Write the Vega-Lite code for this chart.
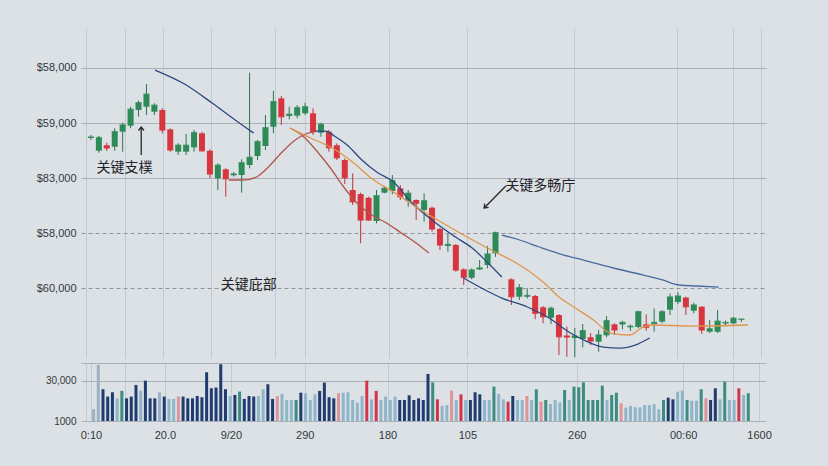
{
"$schema": "https://vega.github.io/schema/vega-lite/v6.json",
"background": "#dce1e5",
"padding": {"left": 36, "top": 28, "right": 63, "bottom": 26},
"bounds": "flush",
"spacing": 5,
"resolve": {"scale": {"color": "independent"}},
"config": {"view": {"stroke": null}, "font": "Liberation Sans",
  "axis": {"labelFont": "Liberation Sans", "labelColor": "#33383d", "labelFontSize": 11, "ticks": false, "domain": false, "title": null, "labelFlush": false, "labelOverlap": false}},
"datasets": {
"candles": [
{"t":0,"o":60727,"h":60782,"l":60691,"c":60745},
{"t":1,"o":60496,"h":60764,"l":60460,"c":60733},
{"t":2,"o":60595,"h":60642,"l":60491,"c":60545},
{"t":3,"o":60569,"h":60904,"l":60496,"c":60842},
{"t":4,"o":60842,"h":61005,"l":60478,"c":60964},
{"t":5,"o":60951,"h":61296,"l":60904,"c":61249},
{"t":6,"o":61236,"h":61405,"l":61114,"c":61369},
{"t":7,"o":61296,"h":61709,"l":61145,"c":61522},
{"t":8,"o":61205,"h":61358,"l":61145,"c":61322},
{"t":9,"o":61236,"h":61267,"l":60813,"c":60873},
{"t":10,"o":60885,"h":60904,"l":60478,"c":60509},
{"t":11,"o":60478,"h":60631,"l":60418,"c":60595},
{"t":12,"o":60478,"h":60800,"l":60418,"c":60595},
{"t":13,"o":60558,"h":60873,"l":60478,"c":60824},
{"t":14,"o":60813,"h":60842,"l":60478,"c":60496},
{"t":15,"o":60496,"h":60522,"l":59995,"c":60073},
{"t":16,"o":59995,"h":60267,"l":59782,"c":60231},
{"t":17,"o":60158,"h":60176,"l":59660,"c":59987},
{"t":18,"o":60049,"h":60109,"l":60027,"c":60073},
{"t":19,"o":60054,"h":60340,"l":59733,"c":60278},
{"t":20,"o":60236,"h":61914,"l":60176,"c":60376},
{"t":21,"o":60400,"h":60691,"l":60327,"c":60660},
{"t":22,"o":60582,"h":61145,"l":60509,"c":60914},
{"t":23,"o":60933,"h":61587,"l":60813,"c":61387},
{"t":24,"o":61449,"h":61491,"l":60964,"c":61114},
{"t":25,"o":61127,"h":61296,"l":61067,"c":61158},
{"t":26,"o":61133,"h":61327,"l":61085,"c":61278},
{"t":27,"o":61176,"h":61369,"l":61145,"c":61296},
{"t":28,"o":61176,"h":61267,"l":60782,"c":60842},
{"t":29,"o":60824,"h":61005,"l":60751,"c":60976},
{"t":30,"o":60842,"h":60873,"l":60478,"c":60551},
{"t":31,"o":60595,"h":60631,"l":60327,"c":60369},
{"t":32,"o":60327,"h":60358,"l":59891,"c":60005},
{"t":33,"o":59782,"h":60085,"l":59509,"c":59569},
{"t":34,"o":59709,"h":59733,"l":58813,"c":59236},
{"t":35,"o":59642,"h":59660,"l":59224,"c":59236},
{"t":36,"o":59218,"h":59782,"l":59176,"c":59678},
{"t":37,"o":59733,"h":59842,"l":59722,"c":59813},
{"t":38,"o":59764,"h":60054,"l":59704,"c":59951},
{"t":39,"o":59813,"h":59873,"l":59600,"c":59660},
{"t":40,"o":59587,"h":59782,"l":59478,"c":59722},
{"t":41,"o":59600,"h":59613,"l":59236,"c":59540},
{"t":42,"o":59418,"h":59722,"l":59206,"c":59587},
{"t":43,"o":59460,"h":59478,"l":59024,"c":59073},
{"t":44,"o":59073,"h":59096,"l":58691,"c":58782},
{"t":45,"o":58764,"h":58982,"l":58660,"c":58791},
{"t":46,"o":58782,"h":58800,"l":58297,"c":58327},
{"t":47,"o":58340,"h":58358,"l":58055,"c":58195},
{"t":48,"o":58187,"h":58358,"l":58158,"c":58327},
{"t":49,"o":58337,"h":58509,"l":58327,"c":58364},
{"t":50,"o":58418,"h":58764,"l":58358,"c":58618},
{"t":51,"o":58631,"h":59024,"l":58569,"c":59006},
{"t":53,"o":58158,"h":58176,"l":57691,"c":57842},
{"t":54,"o":57842,"h":58073,"l":57782,"c":58006},
{"t":55,"o":57842,"h":57995,"l":57813,"c":57864},
{"t":56,"o":57855,"h":57873,"l":57431,"c":57540},
{"t":57,"o":57649,"h":57673,"l":57358,"c":57478},
{"t":58,"o":57460,"h":57660,"l":57346,"c":57631},
{"t":59,"o":57509,"h":57527,"l":56782,"c":57115},
{"t":60,"o":57137,"h":57297,"l":56751,"c":57109},
{"t":61,"o":57091,"h":57273,"l":56746,"c":57128},
{"t":62,"o":57073,"h":57346,"l":56922,"c":57224},
{"t":63,"o":57104,"h":57182,"l":56964,"c":57037},
{"t":64,"o":57024,"h":57237,"l":56842,"c":57146},
{"t":65,"o":57140,"h":57491,"l":57104,"c":57406},
{"t":66,"o":57340,"h":57358,"l":57146,"c":57237},
{"t":67,"o":57337,"h":57406,"l":57249,"c":57373},
{"t":68,"o":57286,"h":57337,"l":57218,"c":57304},
{"t":69,"o":57291,"h":57591,"l":57273,"c":57569},
{"t":70,"o":57340,"h":57522,"l":57224,"c":57286},
{"t":71,"o":57346,"h":57631,"l":57206,"c":57373},
{"t":72,"o":57388,"h":57600,"l":57358,"c":57569},
{"t":73,"o":57606,"h":57900,"l":57509,"c":57837},
{"t":74,"o":57746,"h":57924,"l":57709,"c":57855},
{"t":75,"o":57827,"h":57842,"l":57509,"c":57660},
{"t":76,"o":57588,"h":57733,"l":57540,"c":57691},
{"t":77,"o":57660,"h":57673,"l":57169,"c":57237},
{"t":78,"o":57206,"h":57418,"l":57182,"c":57258},
{"t":79,"o":57204,"h":57600,"l":57182,"c":57397},
{"t":80,"o":57355,"h":57409,"l":57309,"c":57373},
{"t":81,"o":57358,"h":57473,"l":57337,"c":57449},
{"t":82,"o":57424,"h":57442,"l":57382,"c":57433}
],
"ma": [
{"ma":"MA20","seg":"a1","t":8.07,"p":61963},{"ma":"MA20","seg":"a1","t":11.8,"p":61709},{"ma":"MA20","seg":"a1","t":15.28,"p":61363},{"ma":"MA20","seg":"a1","t":18.01,"p":61073},{"ma":"MA20","seg":"a1","t":20.5,"p":60818},
{"ma":"MA5","seg":"r1","t":17.39,"p":59964},{"ma":"MA5","seg":"r1","t":19.25,"p":59964},{"ma":"MA5","seg":"r1","t":20.87,"p":60018},{"ma":"MA5","seg":"r1","t":22.36,"p":60200},{"ma":"MA5","seg":"r1","t":23.98,"p":60454},{"ma":"MA5","seg":"r1","t":25.59,"p":60673},{"ma":"MA5","seg":"r1","t":27.08,"p":60800},{"ma":"MA5","seg":"r1","t":28.32,"p":60854},
{"ma":"MA20","seg":"a2","t":28.32,"p":60854},{"ma":"MA20","seg":"a2","t":29.57,"p":60854},{"ma":"MA20","seg":"a2","t":30.68,"p":60764},{"ma":"MA20","seg":"a2","t":32.3,"p":60600},{"ma":"MA20","seg":"a2","t":34.16,"p":60327},{"ma":"MA20","seg":"a2","t":36.02,"p":60109},{"ma":"MA20","seg":"a2","t":38.14,"p":59927},{"ma":"MA20","seg":"a2","t":40.37,"p":59564},{"ma":"MA20","seg":"a2","t":43.48,"p":59182},{"ma":"MA20","seg":"a2","t":45.96,"p":58927},{"ma":"MA20","seg":"a2","t":48.07,"p":58727},{"ma":"MA20","seg":"a2","t":50.06,"p":58455},{"ma":"MA20","seg":"a2","t":51.8,"p":58200},
{"ma":"MA5","seg":"r2","t":25.09,"p":60909},{"ma":"MA5","seg":"r2","t":26.71,"p":60764},{"ma":"MA5","seg":"r2","t":28.57,"p":60473},{"ma":"MA5","seg":"r2","t":30.19,"p":60182},{"ma":"MA5","seg":"r2","t":31.68,"p":59873},{"ma":"MA5","seg":"r2","t":33.54,"p":59545},{"ma":"MA5","seg":"r2","t":35.4,"p":59327},{"ma":"MA5","seg":"r2","t":37.27,"p":59182},{"ma":"MA5","seg":"r2","t":39.13,"p":59000},{"ma":"MA5","seg":"r2","t":40.99,"p":58818},{"ma":"MA5","seg":"r2","t":42.61,"p":58636},
{"ma":"MA10","seg":"o1","t":25.09,"p":60909},{"ma":"MA10","seg":"o1","t":27.7,"p":60727},{"ma":"MA10","seg":"o1","t":30.19,"p":60564},{"ma":"MA10","seg":"o1","t":32.67,"p":60327},{"ma":"MA10","seg":"o1","t":35.65,"p":59964},{"ma":"MA10","seg":"o1","t":38.14,"p":59745},{"ma":"MA10","seg":"o1","t":40.99,"p":59473},{"ma":"MA10","seg":"o1","t":43.48,"p":59255},{"ma":"MA10","seg":"o1","t":47.2,"p":58946},{"ma":"MA10","seg":"o1","t":50.93,"p":58655},{"ma":"MA10","seg":"o1","t":53.42,"p":58473},{"ma":"MA10","seg":"o1","t":57.14,"p":58091},{"ma":"MA10","seg":"o1","t":59.01,"p":57837},{"ma":"MA10","seg":"o1","t":60.87,"p":57655},{"ma":"MA10","seg":"o1","t":63.35,"p":57418},{"ma":"MA10","seg":"o1","t":65.47,"p":57182},{"ma":"MA10","seg":"o1","t":67.95,"p":57146},{"ma":"MA10","seg":"o1","t":69.57,"p":57291},{"ma":"MA10","seg":"o1","t":70.81,"p":57328},{"ma":"MA10","seg":"o1","t":75.78,"p":57309},{"ma":"MA10","seg":"o1","t":82.86,"p":57328},
{"ma":"MA20","seg":"a3","t":46.96,"p":58182},{"ma":"MA20","seg":"a3","t":49.69,"p":57964},{"ma":"MA20","seg":"a3","t":51.8,"p":57818},{"ma":"MA20","seg":"a3","t":55.03,"p":57655},{"ma":"MA20","seg":"a3","t":57.76,"p":57455},{"ma":"MA20","seg":"a3","t":60.25,"p":57200},{"ma":"MA20","seg":"a3","t":62.11,"p":57055},{"ma":"MA20","seg":"a3","t":64.6,"p":56927},{"ma":"MA20","seg":"a3","t":66.71,"p":56909},{"ma":"MA20","seg":"a3","t":68.94,"p":56982},{"ma":"MA20","seg":"a3","t":70.43,"p":57091},
{"ma":"MA60","seg":"a4","t":51.8,"p":58964},{"ma":"MA60","seg":"a4","t":54.04,"p":58873},{"ma":"MA60","seg":"a4","t":56.52,"p":58746},{"ma":"MA60","seg":"a4","t":59.63,"p":58600},{"ma":"MA60","seg":"a4","t":62.11,"p":58509},{"ma":"MA60","seg":"a4","t":65.84,"p":58364},{"ma":"MA60","seg":"a4","t":69.57,"p":58237},{"ma":"MA60","seg":"a4","t":72.05,"p":58146},{"ma":"MA60","seg":"a4","t":74.16,"p":58055},{"ma":"MA60","seg":"a4","t":76.4,"p":58037},{"ma":"MA60","seg":"a4","t":79.13,"p":58018}
],
"notes": [
{"t":4.22,"p":60182,"label":"关键支樸"},
{"t":56.65,"p":59850,"label":"关键多畅庁"},
{"t":19.88,"p":58055,"label":"关键庇部"}
],
"arrows": [
{"id":1,"t":6.34,"p":60418,"t2":6.34,"p2":60927},
{"id":2,"t":52.3,"p":59855,"t2":49.57,"p2":59455}
],
"vol": [
{"k":0,"v":9500,"g":"G"},{"k":1,"v":41600,"g":"G"},{"k":2,"v":24000,"g":"N"},{"k":3,"v":18700,"g":"N"},{"k":4,"v":21800,"g":"N"},{"k":5,"v":17400,"g":"L"},{"k":6,"v":22800,"g":"T"},{"k":7,"v":17400,"g":"N"},{"k":8,"v":18700,"g":"N"},{"k":9,"v":27100,"g":"N"},
{"k":10,"v":23000,"g":"L"},{"k":11,"v":30200,"g":"N"},{"k":12,"v":17400,"g":"N"},{"k":13,"v":17400,"g":"N"},{"k":14,"v":21800,"g":"G"},{"k":15,"v":18700,"g":"N"},{"k":16,"v":17000,"g":"L"},{"k":17,"v":17000,"g":"L"},{"k":18,"v":18700,"g":"P"},{"k":19,"v":18700,"g":"N"},
{"k":20,"v":17400,"g":"N"},{"k":21,"v":17400,"g":"N"},{"k":22,"v":19100,"g":"N"},{"k":23,"v":18200,"g":"N"},{"k":24,"v":36300,"g":"N"},{"k":25,"v":24700,"g":"N"},{"k":26,"v":25200,"g":"N"},{"k":27,"v":42100,"g":"N"},{"k":28,"v":24000,"g":"N"},{"k":29,"v":19100,"g":"L"},
{"k":30,"v":19900,"g":"N"},{"k":31,"v":22300,"g":"T"},{"k":32,"v":17000,"g":"N"},{"k":33,"v":19100,"g":"N"},{"k":34,"v":18700,"g":"N"},{"k":35,"v":19100,"g":"L"},{"k":36,"v":24000,"g":"L"},{"k":37,"v":27600,"g":"N"},{"k":38,"v":17000,"g":"N"},{"k":39,"v":19100,"g":"P"},
{"k":40,"v":20600,"g":"L"},{"k":41,"v":16200,"g":"L"},{"k":42,"v":16200,"g":"L"},{"k":43,"v":16200,"g":"T"},{"k":44,"v":21500,"g":"N"},{"k":45,"v":21100,"g":"L"},{"k":46,"v":16200,"g":"L"},{"k":47,"v":20300,"g":"L"},{"k":48,"v":22800,"g":"N"},{"k":49,"v":28800,"g":"N"},
{"k":50,"v":18200,"g":"N"},{"k":51,"v":17400,"g":"N"},{"k":52,"v":21100,"g":"P"},{"k":53,"v":21500,"g":"L"},{"k":54,"v":21800,"g":"L"},{"k":55,"v":16200,"g":"L"},{"k":56,"v":14300,"g":"L"},{"k":57,"v":19100,"g":"L"},{"k":58,"v":30200,"g":"R"},{"k":59,"v":16700,"g":"L"},
{"k":60,"v":22800,"g":"R"},{"k":61,"v":16200,"g":"L"},{"k":62,"v":18700,"g":"L"},{"k":63,"v":16200,"g":"L"},{"k":64,"v":18700,"g":"L"},{"k":65,"v":16200,"g":"N"},{"k":66,"v":16200,"g":"N"},{"k":67,"v":19600,"g":"N"},{"k":68,"v":16200,"g":"N"},{"k":69,"v":17400,"g":"N"},
{"k":70,"v":16200,"g":"N"},{"k":71,"v":35100,"g":"N"},{"k":72,"v":29000,"g":"T"},{"k":73,"v":16700,"g":"R"},{"k":74,"v":11900,"g":"L"},{"k":75,"v":12600,"g":"L"},{"k":76,"v":23000,"g":"P"},{"k":77,"v":16200,"g":"L"},{"k":78,"v":20300,"g":"R"},{"k":79,"v":16200,"g":"L"},
{"k":80,"v":16200,"g":"N"},{"k":81,"v":21800,"g":"N"},{"k":82,"v":20300,"g":"N"},{"k":83,"v":16200,"g":"L"},{"k":84,"v":16200,"g":"L"},{"k":85,"v":25900,"g":"T"},{"k":86,"v":20600,"g":"L"},{"k":87,"v":16700,"g":"L"},{"k":88,"v":15000,"g":"R"},{"k":89,"v":19100,"g":"N"},
{"k":90,"v":16200,"g":"L"},{"k":91,"v":16200,"g":"L"},{"k":92,"v":19100,"g":"P"},{"k":93,"v":16200,"g":"L"},{"k":94,"v":24000,"g":"T"},{"k":95,"v":15000,"g":"P"},{"k":96,"v":16200,"g":"T"},{"k":97,"v":13300,"g":"L"},{"k":98,"v":16200,"g":"L"},{"k":99,"v":14500,"g":"L"},
{"k":100,"v":23500,"g":"T"},{"k":101,"v":16200,"g":"L"},{"k":102,"v":25900,"g":"T"},{"k":103,"v":25400,"g":"T"},{"k":104,"v":29000,"g":"T"},{"k":105,"v":16200,"g":"T"},{"k":106,"v":16200,"g":"T"},{"k":107,"v":16200,"g":"T"},{"k":108,"v":26600,"g":"T"},{"k":109,"v":16200,"g":"L"},
{"k":110,"v":19900,"g":"T"},{"k":111,"v":21500,"g":"T"},{"k":112,"v":13800,"g":"P"},{"k":113,"v":10700,"g":"L"},{"k":114,"v":11900,"g":"L"},{"k":115,"v":10900,"g":"L"},{"k":116,"v":10900,"g":"L"},{"k":117,"v":12600,"g":"L"},{"k":118,"v":12600,"g":"L"},{"k":119,"v":13100,"g":"L"},
{"k":120,"v":9500,"g":"L"},{"k":121,"v":16200,"g":"T"},{"k":122,"v":17900,"g":"N"},{"k":123,"v":16700,"g":"N"},{"k":124,"v":22300,"g":"L"},{"k":125,"v":23000,"g":"L"},{"k":126,"v":16200,"g":"T"},{"k":127,"v":15700,"g":"L"},{"k":128,"v":15700,"g":"L"},{"k":129,"v":24000,"g":"T"},
{"k":130,"v":17400,"g":"P"},{"k":131,"v":16200,"g":"N"},{"k":132,"v":24700,"g":"N"},{"k":133,"v":16700,"g":"L"},{"k":134,"v":29500,"g":"T"},{"k":135,"v":16200,"g":"L"},{"k":136,"v":16200,"g":"L"},{"k":137,"v":24700,"g":"R"},{"k":138,"v":19900,"g":"L"},{"k":139,"v":21100,"g":"T"}
]
},
"vconcat": [
{
"width": 685, "height": 330,
"layer": [
{"data": {"name": "candles"}, "mark": {"type": "rule", "strokeWidth": 1},
 "encoding": {
  "x": {"field": "t", "type": "quantitative", "scale": {"domain": [-0.621, 84.47], "nice": false, "zero": false},
        "axis": {"values": [-0.621, 4.35, 9.07, 15.16, 23.23, 26.96, 37.52, 47.45, 60.87, 73.91, 80.99, 84.47], "labels": false, "grid": true, "gridColor": "#c3c9ce", "gridWidth": 1}},
  "y": {"field": "l", "type": "quantitative", "scale": {"domain": [56728, 62727], "nice": false, "zero": false},
        "axis": {"values": [58000, 59000, 60000, 61000, 62000], "labelPadding": 5,
                 "labelExpr": "datum.value == 62000 ? '$58,000' : datum.value == 61000 ? '$59,000' : datum.value == 60000 ? '$83,000' : datum.value == 59000 ? '$58,000' : '$60,000'",
                 "grid": true,
                 "gridColor": {"condition": {"test": "datum.value <= 59000", "value": "#8e9499"}, "value": "#aab1b7"},
                 "gridDash": {"condition": {"test": "datum.value <= 59000", "value": [4, 3]}, "value": []}}},
  "y2": {"field": "h"},
  "color": {"condition": {"test": "datum.c >= datum.o", "value": "#2a7450"}, "value": "#b8353c"}
 }},
{"data": {"name": "candles"}, "mark": {"type": "bar", "size": 6},
 "encoding": {
  "x": {"field": "t", "type": "quantitative", "scale": {"domain": [-0.621, 84.47], "nice": false, "zero": false}},
  "y": {"field": "o", "type": "quantitative", "scale": {"domain": [56728, 62727], "nice": false, "zero": false}},
  "y2": {"field": "c"},
  "color": {"condition": {"test": "datum.c >= datum.o", "value": "#2e8b57"}, "value": "#d8363f"}
 }},
{"data": {"name": "candles"}, "mark": {"type": "tick", "size": 6, "thickness": 1.5, "orient": "horizontal"},
 "encoding": {
  "x": {"field": "t", "type": "quantitative", "scale": {"domain": [-0.621, 84.47], "nice": false, "zero": false}},
  "y": {"field": "c", "type": "quantitative", "scale": {"domain": [56728, 62727], "nice": false, "zero": false}},
  "color": {"condition": {"test": "datum.c >= datum.o", "value": "#2e8b57"}, "value": "#d8363f"}
 }},
{"data": {"name": "ma"}, "mark": {"type": "line", "strokeWidth": 1.3, "interpolate": "monotone"},
 "encoding": {
  "x": {"field": "t", "type": "quantitative", "scale": {"domain": [-0.621, 84.47], "nice": false, "zero": false}},
  "y": {"field": "p", "type": "quantitative", "scale": {"domain": [56728, 62727], "nice": false, "zero": false}},
  "color": {"field": "ma", "type": "nominal", "scale": {"domain": ["MA5", "MA10", "MA20", "MA60"], "range": ["#b4544c", "#e0954a", "#2e4883", "#4a6aa0"]}, "legend": null},
  "detail": {"field": "seg"}
 }},
{"data": {"name": "arrows"}, "mark": {"type": "rule", "strokeWidth": 1.3, "color": "#23272b"},
 "encoding": {
  "x": {"field": "t", "type": "quantitative", "scale": {"domain": [-0.621, 84.47], "nice": false, "zero": false}},
  "y": {"field": "p", "type": "quantitative", "scale": {"domain": [56728, 62727], "nice": false, "zero": false}},
  "x2": {"field": "t2"},
  "y2": {"field": "p2"}
 }},
{"data": {"name": "arrows"}, "transform": [{"filter": "datum.id == 1"}],
 "mark": {"type": "point", "shape": "M -0.7 0.9 L 0 0 L 0.7 0.9", "filled": false, "strokeWidth": 1.3, "size": 60, "color": "#23272b", "opacity": 1},
 "encoding": {
  "x": {"field": "t2", "type": "quantitative", "scale": {"domain": [-0.621, 84.47], "nice": false, "zero": false}},
  "y": {"field": "p2", "type": "quantitative", "scale": {"domain": [56728, 62727], "nice": false, "zero": false}}
 }},
{"data": {"name": "arrows"}, "transform": [{"filter": "datum.id == 2"}],
 "mark": {"type": "point", "shape": "M -0.7 0.9 L 0 0 L 0.7 0.9", "filled": false, "strokeWidth": 1.3, "size": 60, "angle": 225, "color": "#23272b", "opacity": 1},
 "encoding": {
  "x": {"field": "t2", "type": "quantitative", "scale": {"domain": [-0.621, 84.47], "nice": false, "zero": false}},
  "y": {"field": "p2", "type": "quantitative", "scale": {"domain": [56728, 62727], "nice": false, "zero": false}}
 }},
{"data": {"name": "notes"}, "mark": {"type": "text", "font": "Noto Sans CJK SC", "fontSize": 14, "color": "#1f2327", "align": "center", "baseline": "middle"},
 "encoding": {
  "x": {"field": "t", "type": "quantitative", "scale": {"domain": [-0.621, 84.47], "nice": false, "zero": false}},
  "y": {"field": "p", "type": "quantitative", "scale": {"domain": [56728, 62727], "nice": false, "zero": false}},
  "text": {"field": "label"}
 }}
]
},
{
"width": 685, "height": 58,
"data": {"name": "vol"},
"mark": {"type": "bar", "size": 3},
"encoding": {
 "x": {"field": "k", "type": "quantitative", "scale": {"domain": [-1.61, 141.7], "nice": false, "zero": false},
       "axis": {"values": [-1.61, -0.565, 6.76, 15.13, 29.14, 44.83, 62.41, 79.35, 102.57, 125.17, 135.84, 141.28], "grid": true, "gridColor": "#c3c9ce", "labelPadding": 8,
                "labelExpr": "datum.value == -0.565 ? '0:10' : datum.value == 15.13 ? '20.0' : datum.value == 29.14 ? '9/20' : datum.value == 44.83 ? '290' : datum.value == 62.41 ? '180' : datum.value == 79.35 ? '105' : datum.value == 102.57 ? '260' : datum.value == 125.17 ? '00:60' : datum.value == 141.28 ? '1600' : ''"}},
 "y": {"field": "v", "type": "quantitative", "scale": {"domain": [1000, 43000], "nice": false, "zero": false},
       "axis": {"values": [1000, 30000, 43000], "grid": true, "gridColor": "#a9b0b6", "labelFontSize": 10, "labelPadding": 5,
                "labelExpr": "datum.value == 1000 ? '1000' : datum.value == 30000 ? '30,000' : ''"}},
 "y2": {"datum": 1000},
 "color": {"field": "g", "type": "nominal", "scale": {"domain": ["N", "L", "T", "P", "R", "G"], "range": ["#1f3b70", "#8fb5c9", "#3d8c82", "#df9498", "#d4344a", "#9eafc3"]}, "legend": null}
}
}
]
}
